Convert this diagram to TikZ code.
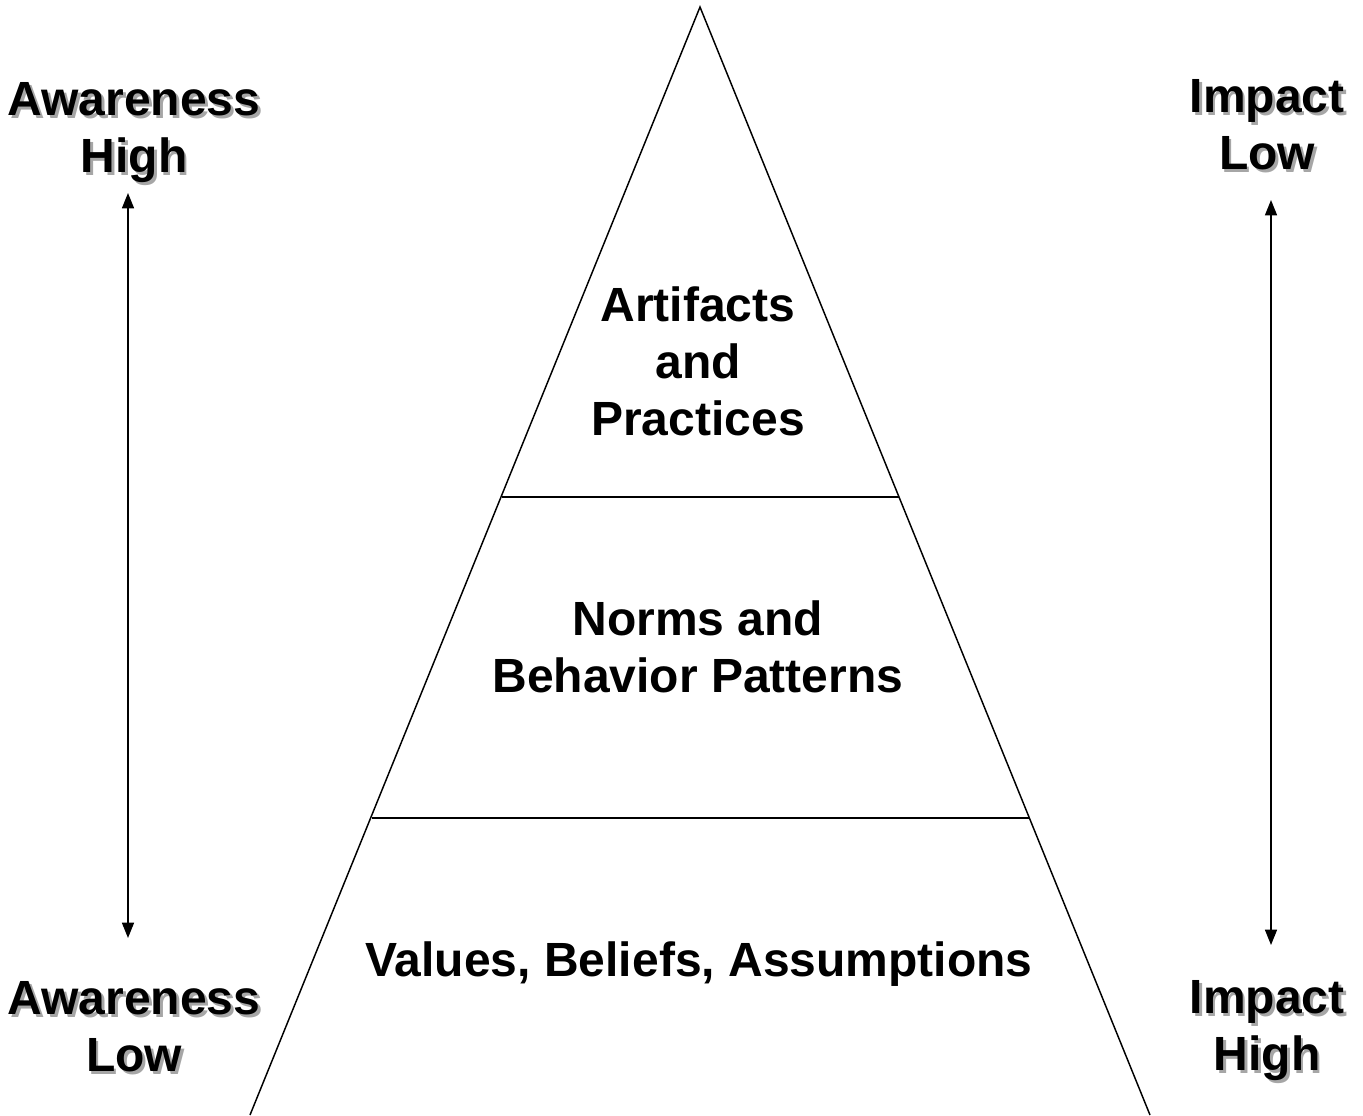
\documentclass[tikz,border=0pt]{standalone}
\usepackage{fontspec}
\setmainfont{Liberation Sans}
\usetikzlibrary{arrows.meta}

\tikzset{
  layertext/.style={align=center, inner sep=0pt, font=\fontsize{36}{42.75}\selectfont\bfseries},
  sidetext/.style={layertext},
  sideshadow/.style={layertext, text=black!35, xshift=2.2pt, yshift=-2.2pt},
  scalearrow/.style={line width=1.1pt, {Triangle[length=11.5pt,width=9pt]}-{Triangle[length=11.5pt,width=9pt]}}
}

% label with a grey drop shadow behind it
\newcommand{\shadowlabel}[3]{%
  \node[sideshadow] (#1shadow) at (#2) {#3};
  \node[sidetext] (#1) at (#2) {#3};
}

\begin{document}
\begin{tikzpicture}[x=0.75pt,y=0.75pt,yscale=-1,xscale=1]
\useasboundingbox (0,0) rectangle (1363,1115);

% Pyramid outline
\coordinate (apex) at (700,7);
\coordinate (baseL) at (250,1115);
\coordinate (baseR) at (1150,1115);
\draw [line width=1.1pt, line join=miter] (baseL) -- (apex) -- (baseR) ;

% Layer dividers
\coordinate (topL) at (501.5,497);
\coordinate (topR) at (898.5,497);
\coordinate (midL) at (371.5,818);
\coordinate (midR) at (1028.5,818);
\draw [line width=0.9pt] (topL) -- (topR) ;
\draw [line width=0.9pt] (midL) -- (midR) ;

% Layer texts
\node[layertext] (artifacts) at (698,361) {Artifacts\\and\\Practices};
\node[layertext] (norms) at (698,647) {Norms and\\Behavior Patterns};
\node[layertext] (values) at (699,964) {Values, Beliefs, Assumptions};

% Awareness scale
\shadowlabel{awareHigh}{134,133}{Awareness\\High}
\shadowlabel{awareLow}{134,1027}{Awareness\\Low}
\coordinate (awareTop) at (128,193);
\coordinate (awareBot) at (128,938);
\draw [scalearrow] (awareTop) -- (awareBot) ;

% Impact scale
\shadowlabel{impactLow}{1267,125}{Impact\\Low}
\shadowlabel{impactHigh}{1267,1031}{Impact\\High}
\coordinate (impactTop) at (1271,200);
\coordinate (impactBot) at (1271,945);
\draw [scalearrow] (impactTop) -- (impactBot) ;

\end{tikzpicture}
\end{document}
